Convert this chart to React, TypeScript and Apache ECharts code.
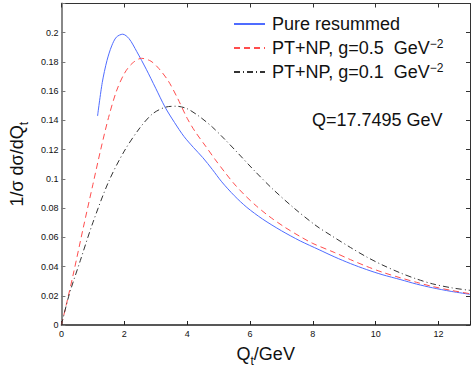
import React, { useEffect, useRef } from "react";
import * as echarts from "echarts";

const pureResummed: [number, number][] = [
  [1.15, 0.143], [1.3, 0.166], [1.45, 0.181], [1.6, 0.191], [1.75, 0.197], [1.95, 0.199],
  [2.15, 0.196], [2.4, 0.187], [2.7, 0.175], [3.0, 0.162], [3.3, 0.149], [3.6, 0.1385],
  [3.9, 0.129], [4.2, 0.1215], [4.5, 0.1145], [4.8, 0.1065], [5.1, 0.098], [5.5, 0.0885],
  [5.9, 0.0805], [6.4, 0.0725], [7.0, 0.0645], [7.6, 0.0575], [8.2, 0.0515], [8.7, 0.0465],
  [9.2, 0.042], [9.7, 0.038], [10.2, 0.0345], [10.8, 0.031], [11.3, 0.028], [11.8, 0.0255],
  [12.4, 0.023], [13.0, 0.021],
];

const ptNp05: [number, number][] = [
  [0, 0], [0.2, 0.018], [0.4, 0.037], [0.7, 0.067], [1.0, 0.096], [1.25, 0.12],
  [1.5, 0.142], [1.75, 0.16], [2.0, 0.172], [2.25, 0.179], [2.55, 0.1825], [2.85, 0.1805],
  [3.1, 0.1755], [3.4, 0.167], [3.7, 0.155], [4.0, 0.1415], [4.25, 0.1325], [4.6, 0.122],
  [4.9, 0.113], [5.2, 0.1045], [5.5, 0.0965], [5.85, 0.0885], [6.2, 0.0815], [6.6, 0.0745],
  [7.1, 0.067], [7.6, 0.0605], [8.0, 0.0558], [8.7, 0.0495], [9.2, 0.0447], [9.7, 0.0402],
  [10.2, 0.0362], [10.8, 0.0322], [11.3, 0.0292], [11.8, 0.0264], [12.4, 0.0237], [13.0, 0.0214],
];

const ptNp01: [number, number][] = [
  [0, 0], [0.25, 0.021], [0.6, 0.044], [1.0, 0.07], [1.5, 0.098], [2.0, 0.119],
  [2.5, 0.135], [2.9, 0.1445], [3.3, 0.149], [3.65, 0.1497], [4.0, 0.148], [4.4, 0.1425],
  [4.8, 0.1355], [5.2, 0.127], [5.6, 0.118], [6.1, 0.1065], [6.7, 0.0935], [7.4, 0.08],
  [8.1, 0.068], [8.6, 0.061], [9.2, 0.053], [9.7, 0.0467], [10.2, 0.0412], [10.8, 0.0355],
  [11.3, 0.0315], [11.8, 0.0282], [12.4, 0.0255], [13.0, 0.0237],
];

const seriesNames = [
  "Pure resummed",
  "PT+NP, g=0.5  GeV^-2",
  "PT+NP, g=0.1  GeV^-2",
];
const legendLabels: Record<string, string> = {
  "Pure resummed": "{m|Pure resummed}",
  "PT+NP, g=0.5  GeV^-2": "{m|PT+NP, g=0.5  GeV}{sup|\u22122}",
  "PT+NP, g=0.1  GeV^-2": "{m|PT+NP, g=0.1  GeV}{sup|\u22122}",
};
const annotation = "Q=17.7495 GeV";

const FONT = "'Liberation Sans', Arial, Helvetica, sans-serif";

export default function App() {
  const ref = useRef<HTMLDivElement>(null);
  useEffect(() => {
    if (!ref.current) return;
    const chart = echarts.init(ref.current, undefined, { renderer: "svg" });
    const axisLabel = { fontFamily: FONT, fontSize: 9, color: "#111" };
    chart.setOption({
      animation: false,
      backgroundColor: "#ffffff",
      grid: { left: 58, right: 3, top: 3.5, bottom: 44, containLabel: false },
      legend: {
        orient: "vertical",
        left: 228,
        top: 10,
        itemWidth: 31,
        itemHeight: 14,
        itemGap: 5,
        data: seriesNames,
        itemStyle: { opacity: 0 },
        formatter: (n: string) => legendLabels[n],
        textStyle: {
          fontFamily: FONT,
          color: "#111",
          padding: [0, 0, 0, 2],
          rich: {
            m: { fontFamily: FONT, fontSize: 18, color: "#111", lineHeight: 20 },
            sup: { fontFamily: FONT, fontSize: 12, color: "#111", lineHeight: 12, verticalAlign: "top" },
          },
        },
      },
      graphic: [
        {
          type: "text",
          left: 312,
          top: 111,
          style: { text: annotation, fontFamily: FONT, fontSize: 18, fill: "#111" },
        },
      ],
      xAxis: [
        {
          type: "value",
          min: 0,
          max: 13,
          interval: 2,
          name: "{m|Q}{s|t}{m|/GeV}",
          nameLocation: "middle",
          nameGap: 16,
          nameTextStyle: {
            rich: {
              m: { fontFamily: FONT, fontSize: 18, color: "#111", lineHeight: 26 },
              s: { fontFamily: FONT, fontSize: 12, color: "#111", lineHeight: 12, verticalAlign: "bottom" },
            },
          },
          axisLine: { show: true, onZero: false, lineStyle: { color: "#222", width: 1.5 } },
          axisTick: { show: true, inside: true, length: 4, lineStyle: { color: "#222" } },
          axisLabel: {
            ...axisLabel,
            margin: 4,
            formatter: (v: number) => (v > 12.5 ? "" : String(v)),
          },
          splitLine: { show: false },
        },
        {
          type: "value",
          position: "top",
          min: 0,
          max: 13,
          interval: 2,
          axisLine: { show: true, onZero: false, lineStyle: { color: "#333", width: 1 } },
          axisTick: { show: true, inside: true, length: 4, lineStyle: { color: "#333" } },
          axisLabel: { show: false },
          splitLine: { show: false },
        },
      ],
      yAxis: [
        {
          type: "value",
          min: 0,
          max: 0.22,
          interval: 0.02,
          name: "{m|1/\u03c3 d\u03c3/dQ}{s|t}",
          nameLocation: "middle",
          nameRotate: 90,
          nameGap: 30,
          nameTextStyle: {
            rich: {
              m: { fontFamily: FONT, fontSize: 18, color: "#111", lineHeight: 26 },
              s: { fontFamily: FONT, fontSize: 12, color: "#111", lineHeight: 12, verticalAlign: "bottom" },
            },
          },
          axisLine: { show: true, onZero: false, lineStyle: { color: "#888", width: 2 } },
          axisTick: { show: true, inside: true, length: 4, lineStyle: { color: "#777" } },
          axisLabel: {
            ...axisLabel,
            margin: 3,
            formatter: (v: number) => (v > 0.215 ? "" : String(+v.toFixed(2))),
          },
          splitLine: { show: false },
        },
        {
          type: "value",
          position: "right",
          min: 0,
          max: 0.22,
          interval: 0.02,
          axisLine: { show: true, onZero: false, lineStyle: { color: "#333", width: 1 } },
          axisTick: { show: true, inside: true, length: 4, lineStyle: { color: "#333" } },
          axisLabel: { show: false },
          splitLine: { show: false },
        },
      ],
      series: [
        {
          name: seriesNames[0],
          type: "line",
          data: pureResummed,
          symbol: "none",
          smooth: 0.3,
          lineStyle: { color: "#4f6cff", width: 1, type: "solid" },
          itemStyle: { color: "#4f6cff" },
        },
        {
          name: seriesNames[1],
          type: "line",
          data: ptNp05,
          symbol: "none",
          smooth: 0.3,
          lineStyle: { color: "#ff4d4d", width: 1, type: [6, 4] },
          itemStyle: { color: "#ff4d4d" },
        },
        {
          name: seriesNames[2],
          type: "line",
          data: ptNp01,
          symbol: "none",
          smooth: 0.3,
          lineStyle: { color: "#333333", width: 1, type: [6, 3, 1, 3] },
          itemStyle: { color: "#333333" },
        },
      ],
    });
    return () => chart.dispose();
  }, []);
  return (
    <div
      ref={ref}
      style={{ position: "fixed", left: 0, top: 0, width: 473, height: 372, background: "#fff" }}
    />
  );
}
